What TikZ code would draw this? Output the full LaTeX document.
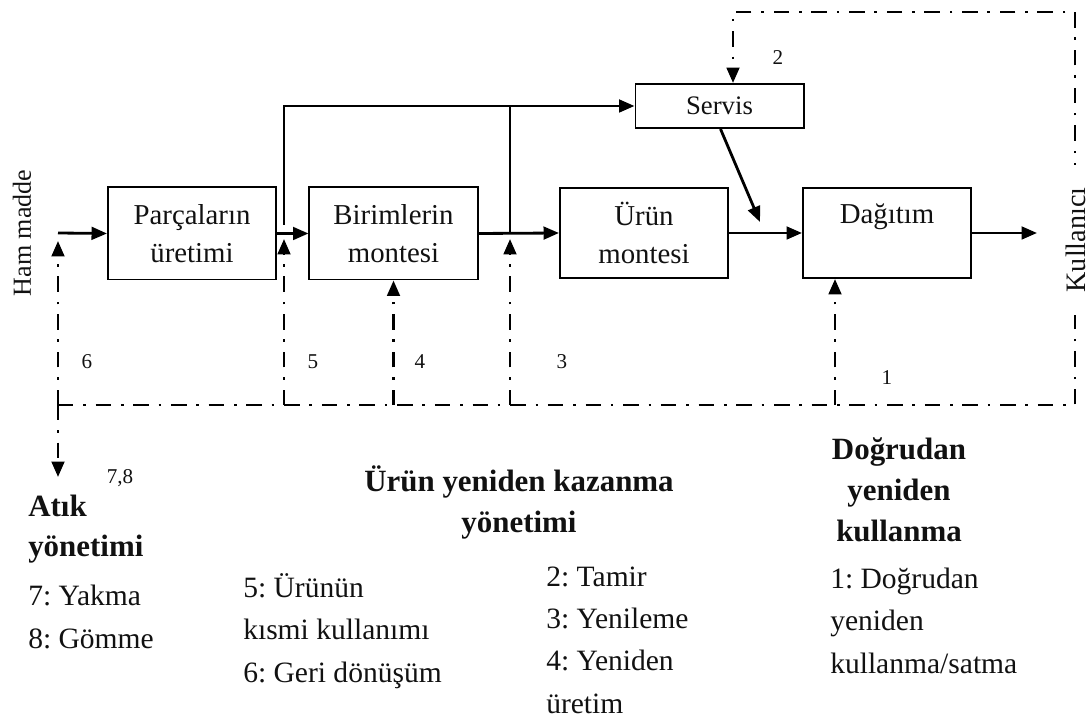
\documentclass[tikz,border=0pt]{standalone}
\usepackage{fontspec}
\setmainfont{Liberation Serif}
\usetikzlibrary{arrows.meta,positioning,calc}
\definecolor{cizgi}{HTML}{000000}
\definecolor{yazi}{HTML}{111111}
\frenchspacing

\begin{document}
\begin{tikzpicture}[
  x=0.025cm, y=-0.025cm,
  >={Triangle[length=11pt,width=9pt]},
  every node/.style={text=yazi},
  blok/.style={draw=cizgi, line width=1.4pt, inner sep=0pt, align=center,
     minimum width=4.2cm, minimum height=2.3cm, font=\fontsize{20.5}{27}\selectfont},
  ok/.style={->, line width=2pt, draw=cizgi},
  hat/.style={line width=2pt, draw=cizgi},
  geri/.style={line width=2pt, draw=cizgi, dash pattern=on 11pt off 7pt on 1.8pt off 7pt},
  geriok/.style={geri, ->},
  etiket/.style={font=\fontsize{15}{18}\selectfont},
  baslik/.style={font=\bfseries\fontsize{22}{29.5}\selectfont, align=center, inner sep=0pt},
  liste/.style={font=\fontsize{21}{30}\selectfont, align=left, anchor=base west, inner sep=0pt},
]
\useasboundingbox (0,0) rectangle (1092,720);
% --- kutular ---
\node[blok] (parca) at (192,233.5) {Parçaların\\üretimi};
\node[blok] (birim) at (393.5,233.5) {Birimlerin\\montesi};
\node[blok, minimum height=2.25cm] (urun) at (644,233) {Ürün\\montesi};
\node[blok, minimum height=2.25cm] (dagitim) at (887,233) {Dağıtım\\[-8pt]\strut};
\node[blok, minimum height=1.1cm, font=\fontsize{19}{24}\selectfont] (servis) at (719.5,106) {Servis};
% --- giris / cikis ---
\coordinate (ham) at (58,233);
\coordinate (kulok) at (1037,233);
\node[rotate=90, font=\fontsize{18.5}{22}\selectfont] (hammadde) at (22,233) {Ham madde};
% --- ana akis ---
\draw[ok] (ham) -- (parca.west);
\draw[ok] (parca.east) -- (birim.west);
\draw[ok] (birim.east) -- (urun.west);
\draw[ok] (urun.east) -- (dagitim.west);
\draw[ok] (dagitim.east) -- (kulok);
% servis kolu
\coordinate (dal1) at (284,225);
\coordinate (dal2) at (510,233);
\draw[ok] (dal1) |- (servis.west);
\draw[hat] (dal2) -- (dal2 |- servis.west);
\coordinate (servisuc) at (760,222);
\draw[ok] ($(servis.south)+(1,0)$) -- (servisuc);
% --- geri donus dongusu ---
\coordinate (solalt) at (58,405);
\coordinate (sagalt) at (1075,405);
\coordinate (sagust) at (1075,12);
\coordinate (atik) at (58,477);
\coordinate (d1) at ($(dagitim.south)+(-52,0)$);
\draw[geriok] (solalt) -- (sagalt) -- (sagust) -| ($(servis.north)+(13.5,0)$);
\draw[geriok] (solalt) -- ($(ham)+(0,8)$);
\draw[geriok] (dal1 |- solalt) -- ($(dal1)+(0,14)$);
\draw[geriok] (birim.south |- solalt) -- (birim.south);
\draw[geriok] (dal2 |- solalt) -- ($(dal2)+(0,6)$);
\draw[geriok] (d1 |- solalt) -- (d1);
\draw[geriok] (solalt) -- (atik);
\node[rotate=90, fill=white, inner xsep=16pt, font=\fontsize{20}{24}\selectfont] (kullanici) at (1076,240) {Kullanıcı};
% --- numaralar ---
\node[etiket] (e2) at (778,58) {2};
\node[etiket] (e6) at (87,362) {6};
\node[etiket] (e5) at (313,362) {5};
\node[etiket] (e4) at (420,362) {4};
\node[etiket] (e3) at (562,362) {3};
\node[etiket] (e1) at (887,378) {1};
\node[etiket] (e78) at (120,478) {7,8};
% --- aciklamalar (son satirin tabani) ---
\node[baslik, align=left, anchor=base west, font=\bfseries\fontsize{22}{28.5}\selectfont] (atikb) at (28,557) {Atık\\yönetimi};
\node[liste, font=\fontsize{21}{30.5}\selectfont] (atikl) at (28,648) {7: Yakma\\8: Gömme};
\node[baslik, anchor=base] (urunb) at (519,533) {Ürün yeniden kazanma\\yönetimi};
\node[liste] (urunl1) at (243,682) {5: Ürünün\\kısmi kullanımı\\6: Geri dönüşüm};
\node[liste] (urunl2) at (546,713) {2: Tamir\\3: Yenileme\\4: Yeniden\\üretim};
\node[baslik, anchor=base] (dogrub) at (899,542) {Doğrudan\\yeniden\\kullanma};
\node[liste] (dogrul) at (830,673) {1: Doğrudan\\yeniden\\kullanma/satma};
\end{tikzpicture}
\end{document}
